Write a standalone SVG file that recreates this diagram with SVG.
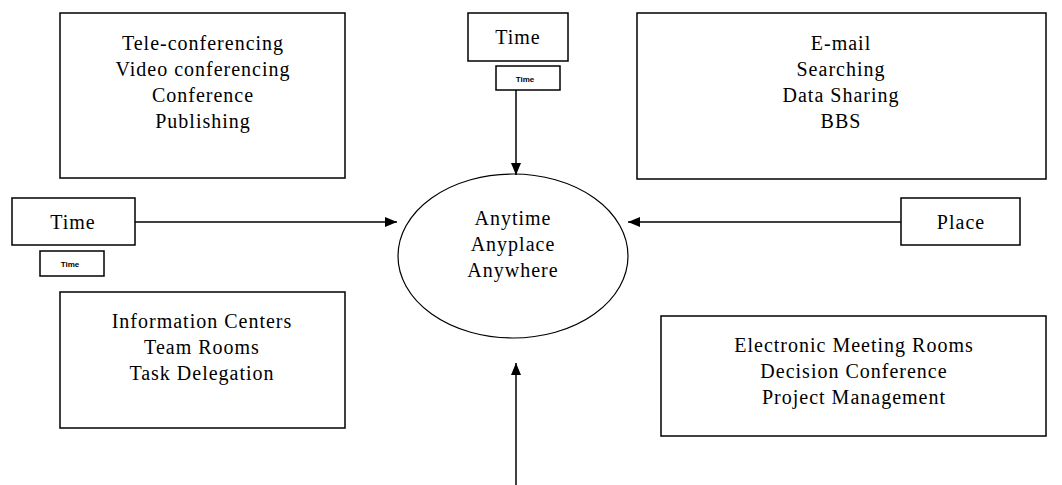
<svg xmlns="http://www.w3.org/2000/svg" width="1062" height="485" viewBox="0 0 1062 485">
<defs>
<style>
.box{fill:#fff;stroke:#000;stroke-width:1.5}
.t{font-family:"Liberation Serif","Times New Roman",serif;font-size:20px;letter-spacing:1px;text-anchor:middle;fill:#000}
.s{font-family:"Liberation Sans",Arial,sans-serif;font-size:8px;font-weight:bold;text-anchor:middle;fill:#000}
.c{fill:none;stroke:#000;stroke-width:1.5}
</style>
<marker id="ah" markerWidth="12" markerHeight="10" refX="12" refY="5" orient="auto" markerUnits="userSpaceOnUse">
<path d="M0,0 L12,5 L0,10 Z" fill="#000"/>
</marker>
</defs>
<g id="connectors">
<line class="c" x1="516" y1="90" x2="516" y2="175" marker-end="url(#ah)"/>
<line class="c" x1="135" y1="222" x2="397" y2="222" marker-end="url(#ah)"/>
<line class="c" x1="901" y1="222" x2="628" y2="222" marker-end="url(#ah)"/>
<line class="c" x1="516" y1="485" x2="516" y2="363" marker-end="url(#ah)"/>
</g>
<g id="center">
<ellipse cx="513" cy="256" rx="115" ry="82" fill="none" stroke="#000" stroke-width="1.2"/>
<text class="t" x="513" y="225">Anytime</text>
<text class="t" x="513" y="251">Anyplace</text>
<text class="t" x="513" y="277">Anywhere</text>
</g>
<g id="box-top-left">
<rect class="box" x="60" y="13" width="285" height="165"/>
<text class="t" x="203" y="50">Tele-conferencing</text>
<text class="t" x="203" y="76">Video conferencing</text>
<text class="t" x="203" y="102">Conference</text>
<text class="t" x="203" y="128">Publishing</text>
</g>
<g id="time-top">
<rect class="box" x="468" y="13" width="100" height="48"/>
<text class="t" x="518" y="44">Time</text>
</g>
<g id="time-top-small">
<rect class="box" x="496" y="66" width="64" height="24"/>
<text class="s" x="525" y="82">Time</text>
</g>
<g id="box-top-right">
<rect class="box" x="637" y="13" width="409" height="166"/>
<text class="t" x="841" y="50">E-mail</text>
<text class="t" x="841" y="76">Searching</text>
<text class="t" x="841" y="102">Data Sharing</text>
<text class="t" x="841" y="128">BBS</text>
</g>
<g id="time-left">
<rect class="box" x="12" y="198" width="123" height="47"/>
<text class="t" x="73" y="229">Time</text>
</g>
<g id="time-left-small">
<rect class="box" x="40" y="251" width="64" height="25"/>
<text class="s" x="70" y="267">Time</text>
</g>
<g id="place">
<rect class="box" x="901" y="198" width="119" height="47"/>
<text class="t" x="961" y="229">Place</text>
</g>
<g id="box-bottom-left">
<rect class="box" x="60" y="292" width="285" height="136"/>
<text class="t" x="202" y="328">Information Centers</text>
<text class="t" x="202" y="354">Team Rooms</text>
<text class="t" x="202" y="380">Task Delegation</text>
</g>
<g id="box-bottom-right">
<rect class="box" x="661" y="316" width="385" height="120"/>
<text class="t" x="854" y="352">Electronic Meeting Rooms</text>
<text class="t" x="854" y="378">Decision Conference</text>
<text class="t" x="854" y="404">Project Management</text>
</g>
</svg>
